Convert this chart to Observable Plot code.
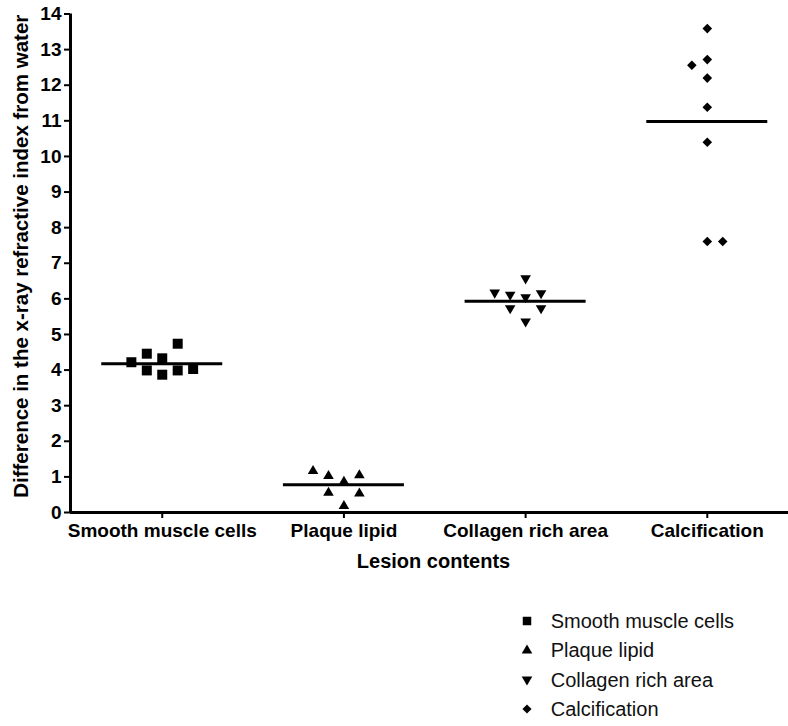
<!DOCTYPE html>
<html>
<head>
<meta charset="utf-8">
<script src="https://cdn.jsdelivr.net/npm/d3@7"></script>
<script src="https://cdn.jsdelivr.net/npm/@observablehq/plot@0.6"></script>
<style>
  body { margin: 0; background: #fff; font-family: "Liberation Sans", Arial, sans-serif; }
  #chart { width: 788px; height: 580px; }
  #legend { position: relative; width: 788px; height: 146px; }
  .row { position: absolute; left: 0; height: 30px; width: 788px; }
  .row svg { position: absolute; left: 516.7px; top: 5px; }
  .row span { position: absolute; left: 550.7px; top: 0; line-height: 30px; font-size: 20px; color: #111; white-space: nowrap; }
</style>
</head>
<body>
<div id="chart"></div>
<div id="legend"></div>
<script>
// ---- data ----
const categories = ["Smooth muscle cells", "Plaque lipid", "Collagen rich area", "Calcification"];
const yTicks = [0, 1, 2, 3, 4, 5, 6, 7, 8, 9, 10, 11, 12, 13, 14];
const yTitle = "Difference in the x-ray refractive index from water";
const xTitle = "Lesion contents";

const smoothValues   = [4.22, 4.46, 3.99, 4.33, 3.87, 4.74, 3.99, 4.03];
const smoothCols     = [-2, -1, -1, 0, 0, 1, 1, 2];
const lipidValues    = [1.18, 1.04, 0.57, 0.88, 0.20, 1.06, 0.55];
const lipidCols      = [-2, -1, -1, 0, 0, 1, 1];
const collagenValues = [6.16, 6.10, 5.72, 6.56, 6.03, 5.35, 6.14, 5.72];
const collagenCols   = [-2, -1, -1, 0, 0, 0, 1, 1];
const calcValues     = [13.59, 12.72, 12.56, 12.20, 11.38, 10.40, 7.61, 7.61];
const calcCols       = [0, 0, -1, 0, 0, 0, 0, 1];
const means          = [4.18, 0.78, 5.93, 10.98];

// ---- custom symbols ----
const symSquare = { draw(ctx, size) { const s = Math.sqrt(size), h = s / 2; ctx.moveTo(-h, -h); ctx.lineTo(h, -h); ctx.lineTo(h, h); ctx.lineTo(-h, h); ctx.closePath(); } };
const symTriUp = { draw(ctx, size) { const s = Math.sqrt(size); ctx.moveTo(0, -0.55 * s); ctx.lineTo(0.53 * s, 0.36 * s); ctx.lineTo(-0.53 * s, 0.36 * s); ctx.closePath(); } };
const symTriDown = { draw(ctx, size) { const s = Math.sqrt(size); ctx.moveTo(0, 0.55 * s); ctx.lineTo(0.53 * s, -0.36 * s); ctx.lineTo(-0.53 * s, -0.36 * s); ctx.closePath(); } };
const symDiamond = { draw(ctx, size) { const s = Math.sqrt(size), h = 0.48 * s; ctx.moveTo(0, -h); ctx.lineTo(h, 0); ctx.lineTo(0, h); ctx.lineTo(-h, 0); ctx.closePath(); } };
const symbols = [symSquare, symTriUp, symTriDown, symDiamond];

const groups = [
  [smoothValues, smoothCols],
  [lipidValues, lipidCols],
  [collagenValues, collagenCols],
  [calcValues, calcCols]
];
const colStep = 0.085;
const halfMean = 0.333;

const dotMarks = groups.map(([vals, cols], i) =>
  Plot.dot(vals.map((v, j) => ({i, v, c: cols[j]})), {
    x: d => d.i + d.c * colStep,
    y: "v",
    r: 5.64,
    symbol: symbols[i],
    fill: "black",
    stroke: "none"
  })
);

const meanData = means.map((m, i) => ({i, m}));

const plot = Plot.plot({
  width: 788,
  height: 580,
  marginLeft: 70,
  marginRight: 0,
  marginTop: 13.5,
  marginBottom: 68,
  style: { fontFamily: "'Liberation Sans', Arial, sans-serif", fontWeight: "bold", fontSize: "19px", background: "white", color: "black", overflow: "visible" },
  x: { type: "linear", domain: [-0.505, 3.447] },
  y: { domain: [0, 14] },
  marks: [
    Plot.axisY({ ticks: yTicks, tickFormat: d => String(d), tickSize: 6, tickPadding: 3, strokeWidth: 2, fontSize: 19, label: null }),
    Plot.axisX({ ticks: [0, 1, 2, 3], tickFormat: i => categories[i], tickSize: 6, tickPadding: 5, strokeWidth: 2, fontSize: 19, label: null }),
    Plot.ruleX([-0.505], { strokeWidth: 3 }),
    Plot.ruleY([0], { strokeWidth: 3 }),
    ...dotMarks,
    Plot.ruleY(meanData, { y: "m", x1: d => d.i - halfMean, x2: d => d.i + halfMean, strokeWidth: 3 }),
    Plot.text([yTitle], { frameAnchor: "left", textAnchor: "middle", lineAnchor: "middle", rotate: -90, dx: -49, dy: -7, fontSize: 20.5, fontWeight: "bold" }),
    Plot.text([xTitle], { frameAnchor: "bottom", textAnchor: "middle", lineAnchor: "middle", dx: 4, dy: 49.5, fontSize: 20, fontWeight: "bold" })
  ]
});
document.getElementById("chart").appendChild(plot);

// ---- legend ----
const legend = document.getElementById("legend");
const legendSizes = [8.5, 10, 10, 9.5];
categories.forEach((name, i) => {
  const row = document.createElement("div");
  row.className = "row";
  row.style.top = (25.7 + i * 29.5) + "px";
  const p = d3.path();
  symbols[i].draw(p, legendSizes[i] * legendSizes[i]);
  row.innerHTML = `<svg width="20" height="20" viewBox="-10 -10 20 20"><path d="${p.toString()}" fill="black"/></svg><span>${name}</span>`;
  legend.appendChild(row);
});
</script>
</body>
</html>
